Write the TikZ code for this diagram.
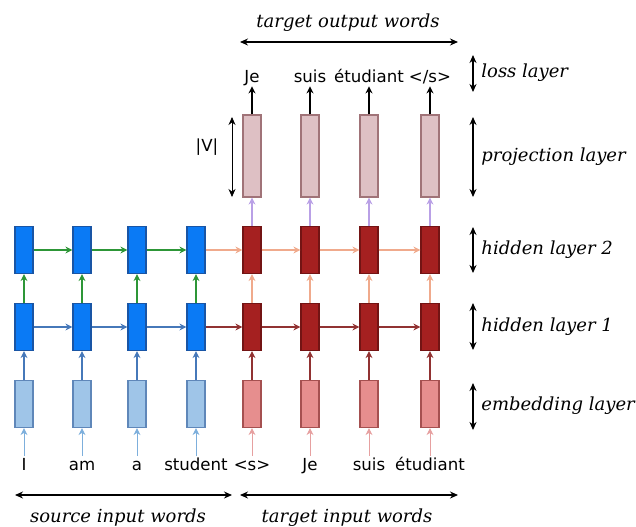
\documentclass[tikz,border=0pt]{standalone}
\usepackage{fontspec}
\setmainfont{DejaVu Sans}
\newfontfamily\labelfont{DejaVu Serif}
\usetikzlibrary{arrows.meta, positioning}

\definecolor{srcEmbFill}{RGB}{159,197,232}
\definecolor{srcEmbLine}{RGB}{95,135,185}
\definecolor{srcHidFill}{RGB}{10,122,245}
\definecolor{srcHidLine}{RGB}{25,85,165}
\definecolor{tgtEmbFill}{RGB}{230,142,142}
\definecolor{tgtEmbLine}{RGB}{165,80,80}
\definecolor{tgtHidFill}{RGB}{165,32,32}
\definecolor{tgtHidLine}{RGB}{115,20,20}
\definecolor{projFill}{RGB}{222,192,196}
\definecolor{projLine}{RGB}{160,115,120}
\definecolor{blueArr}{RGB}{70,120,185}
\definecolor{greenArr}{RGB}{45,150,55}
\definecolor{redArr}{RGB}{145,50,50}
\definecolor{salmonArr}{RGB}{240,170,140}
\definecolor{purpleArr}{RGB}{185,160,230}
\definecolor{srcInArr}{RGB}{125,175,220}
\definecolor{tgtInArr}{RGB}{230,160,160}

\begin{document}
\begin{tikzpicture}[
  x=0.5pt, y=-0.5pt,
  every node/.style={font=\fontsize{8.3}{10}\selectfont, inner sep=0pt},
  cell/.style={rectangle, draw, line width=0.6pt, minimum width=9pt, minimum height=23.5pt},
  srcemb/.style={cell, fill=srcEmbFill, draw=srcEmbLine},
  srchid/.style={cell, fill=srcHidFill, draw=srcHidLine},
  tgtemb/.style={cell, fill=tgtEmbFill, draw=tgtEmbLine},
  tgthid/.style={cell, fill=tgtHidFill, draw=tgtHidLine},
  proj/.style={cell, fill=projFill, draw=projLine, minimum height=41pt},
  word/.style={text height=7pt, text depth=2pt},
  lbl/.style={font=\labelfont\itshape\fontsize{9}{10}\selectfont},
  arr/.style={-{Stealth[length=3.5pt, width=3.5pt]}, line width=0.7pt},
  dbl/.style={{Stealth[length=4pt, width=3.5pt]}-{Stealth[length=4pt, width=3.5pt]}, line width=0.6pt},
]
\useasboundingbox (0,0) rectangle (636,526);

% Source side
\foreach \i/\x/\w in {1/24/I, 2/82/am, 3/137/a, 4/196/student} {
  \node[srcemb] (se\i) at (\x,404) {};
  \node[srchid] (sa\i) at (\x,327) {};
  \node[srchid] (sb\i) at (\x,250) {};
  \node[word] (sw\i) at (\x,465) {\w};
}

% Target side
\foreach \i/\x/\w/\o in {1/252/{<s>}/Je, 2/310/Je/suis, 3/369/suis/étudiant, 4/430/étudiant/{</s>}} {
  \node[tgtemb] (te\i) at (\x,404) {};
  \node[tgthid] (ta\i) at (\x,327) {};
  \node[tgthid] (tb\i) at (\x,250) {};
  \node[proj] (tp\i) at (\x,156) {};
  \node[word] (tw\i) at (\x,465) {\w};
  \node[word] (to\i) at (\x,77) {\o};
}

% Vertical arrows
\foreach \i in {1,...,4} {
  \draw[arr, srcInArr, line width=0.5pt] (sw\i) -- (se\i);
  \draw[arr, blueArr] (se\i) -- (sa\i);
  \draw[arr, greenArr] (sa\i) -- (sb\i);
  \draw[arr, tgtInArr, line width=0.5pt] (tw\i) -- (te\i);
  \draw[arr, redArr] (te\i) -- (ta\i);
  \draw[arr, salmonArr] (ta\i) -- (tb\i);
  \draw[arr, purpleArr] (tb\i) -- (tp\i);
  \draw[arr, black] (tp\i) -- (to\i);
}

% Horizontal arrows
\foreach \i/\j in {1/2, 2/3, 3/4} {
  \draw[arr, blueArr] (sa\i) -- (sa\j);
  \draw[arr, greenArr] (sb\i) -- (sb\j);
  \draw[arr, redArr] (ta\i) -- (ta\j);
  \draw[arr, salmonArr] (tb\i) -- (tb\j);
}
\draw[arr, redArr] (sa4) -- (ta1);
\draw[arr, salmonArr] (sb4) -- (tb1);

% |V|
\coordinate (vtop) at (232,117);
\coordinate (vbot) at (232,197);
\draw[dbl, line width=0.4pt] (vtop) -- (vbot);
\node (vlab) at (207,147) {|V|};

% Layer labels
\foreach \n/\a/\b/\m/\t in {loss/55/92/73/loss layer, projection/117/197/157/projection layer,
    hiddentwo/227/273/250/hidden layer 2, hiddenone/303/350/327/hidden layer 1,
    embedding/383/430/406/embedding layer} {
  \coordinate (\n top) at (473,\a);
  \coordinate (\n bot) at (473,\b);
  \draw[dbl] (\n top) -- (\n bot);
  \node[lbl, anchor=west] (\n lab) at (481,\m) {\t};
}

% Word groups
\coordinate (outl) at (240,42);
\coordinate (outr) at (458,42);
\draw[dbl] (outl) -- (outr);
\node[lbl] (outlab) at (348,23) {target output words};

\coordinate (srcl) at (15,495);
\coordinate (srcr) at (232,495);
\draw[dbl] (srcl) -- (srcr);
\node[lbl] (srclab) at (118,518) {source input words};

\coordinate (tgtl) at (240,495);
\coordinate (tgtr) at (458,495);
\draw[dbl] (tgtl) -- (tgtr);
\node[lbl] (tgtlab) at (347,518) {target input words};
\end{tikzpicture}
\end{document}
